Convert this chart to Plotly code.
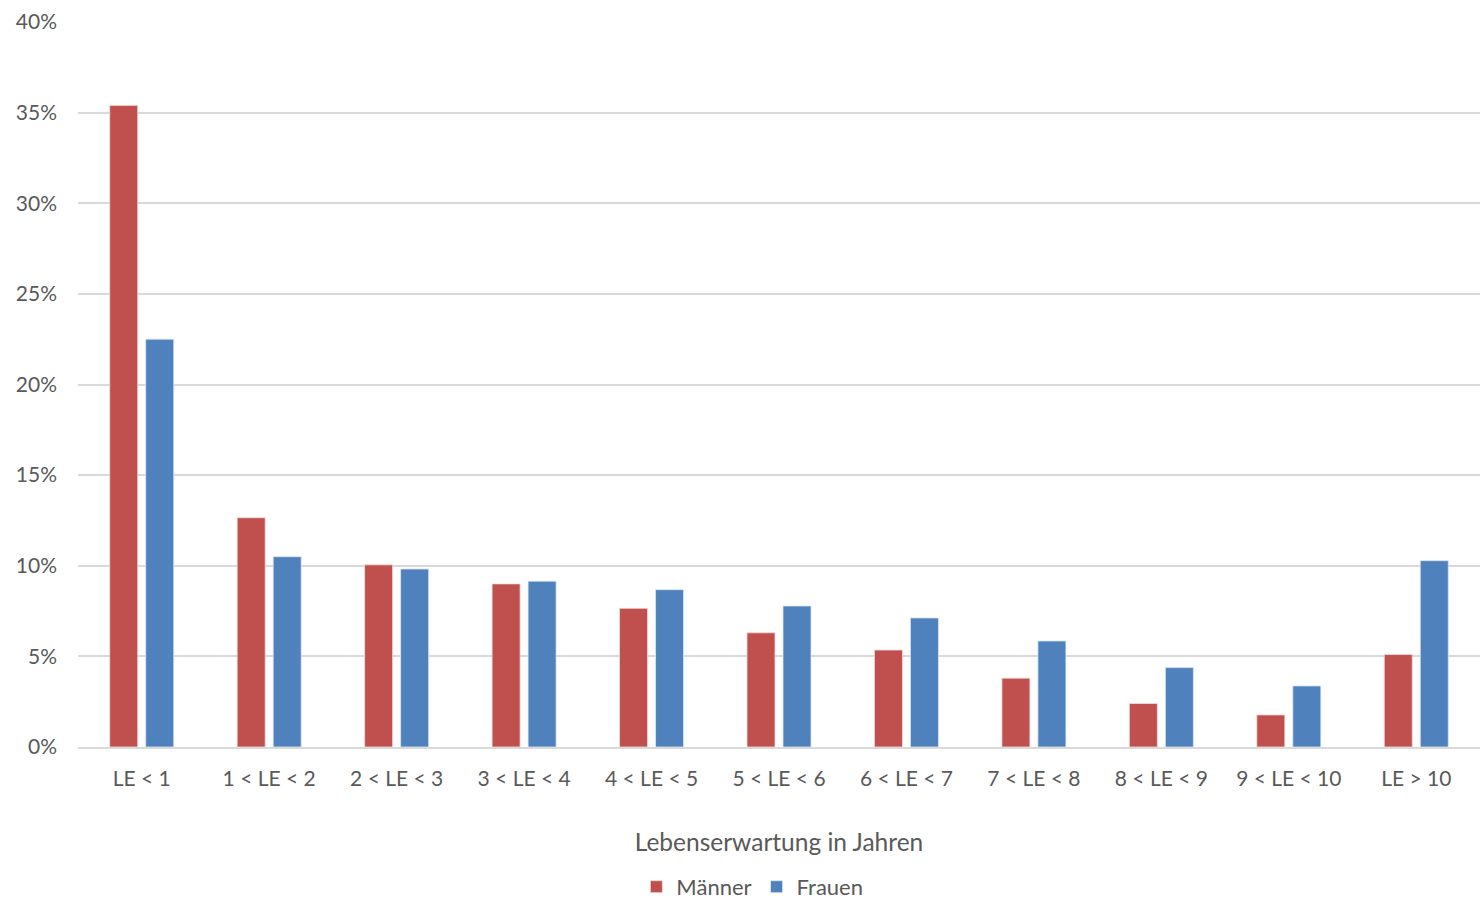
import plotly.graph_objects as go

categories = ["LE < 1", "1 < LE < 2", "2 < LE < 3", "3 < LE < 4", "4 < LE < 5",
              "5 < LE < 6", "6 < LE < 7", "7 < LE < 8", "8 < LE < 9", "9 < LE < 10", "LE > 10"]
maenner = [35.4, 12.65, 10.05, 9.0, 7.65, 6.3, 5.35, 3.8, 2.4, 1.77, 5.1]
frauen = [22.5, 10.5, 9.82, 9.15, 8.68, 7.78, 7.12, 5.85, 4.38, 3.37, 10.28]
yticks = [0, 5, 10, 15, 20, 25, 30, 35, 40]
ytick_labels = [f"{v}%" for v in yticks]

FONT = "Lato, Carlito, Calibri, sans-serif"
TXT = "#595959"

fig = go.Figure()
fig.add_trace(go.Bar(name="Männer", x=categories, y=maenner,
                     marker=dict(color="#C0504D", line=dict(color="#F2DCDB", width=0.8))))
fig.add_trace(go.Bar(name="Frauen", x=categories, y=frauen,
                     marker=dict(color="#4F81BD", line=dict(color="#DCE6F2", width=0.8))))

fig.update_layout(
    width=1480, height=908,
    margin=dict(l=78, r=0, t=22, b=161, autoexpand=False),
    paper_bgcolor="white", plot_bgcolor="white",
    barmode="group", bargap=0.435, bargroupgap=0.222,
    font=dict(family=FONT, color=TXT, size=21),
    showlegend=True,
    legend=dict(orientation="h", x=0.481, xanchor="center", y=-0.164, yanchor="top",
                font=dict(size=22, color=TXT), traceorder="normal"),
    xaxis=dict(
        title=dict(text="Lebenserwartung in Jahren", font=dict(size=24.5, color=TXT), standoff=45),
        tickfont=dict(size=21, color=TXT), showgrid=False, ticks="",
        showline=True, linecolor="#D9D9D9", linewidth=1.5, ticklabelstandoff=12,
    ),
    yaxis=dict(
        range=[0, 40], tickvals=yticks, ticktext=ytick_labels,
        tickfont=dict(size=21, color=TXT), showgrid=True, gridcolor="#D9D9D9", gridwidth=1.5,
        zeroline=False, ticks="", ticklabelstandoff=20,
    ),
)

fig.write_html("out.html", config={"displayModeBar": False},
               post_script="document.body.style.margin='0';document.body.style.overflow='hidden';")
